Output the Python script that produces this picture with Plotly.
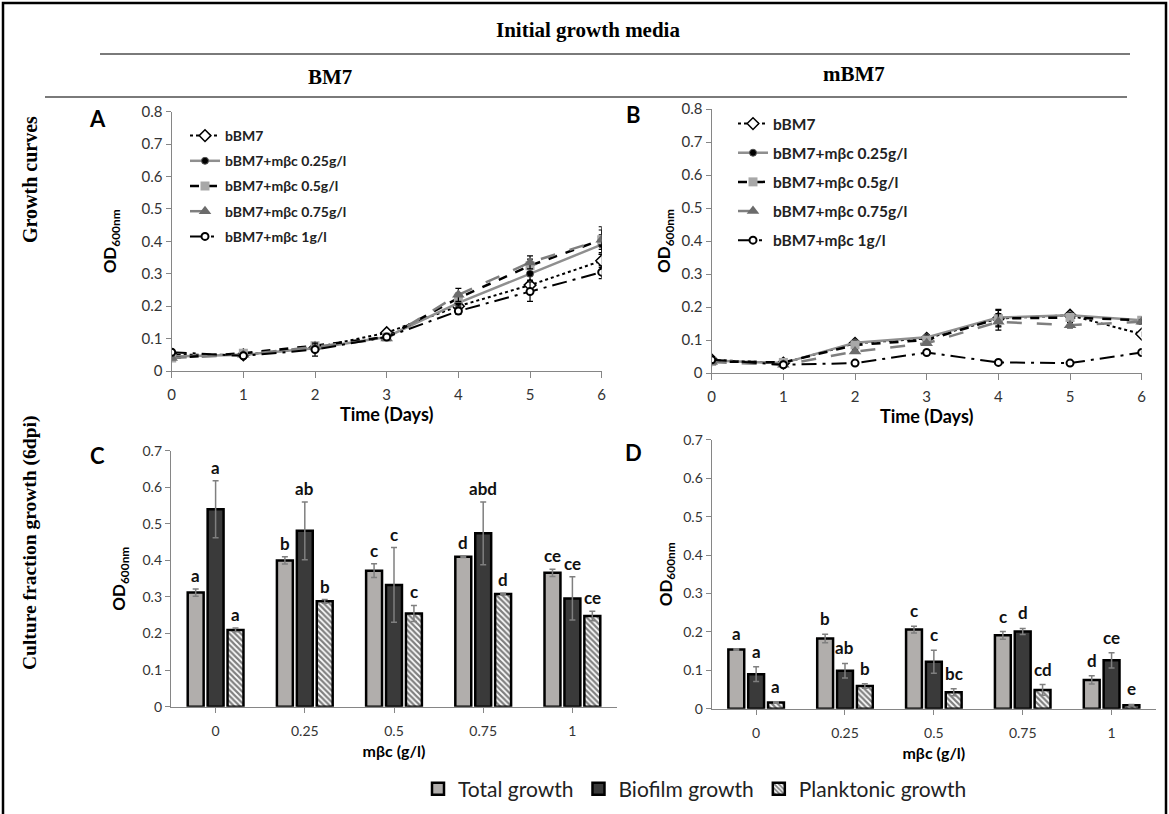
import plotly.graph_objects as go

# ---------------- data ----------------
days = [0, 1, 2, 3, 4, 5, 6]
series_names = ["bBM7", "bBM7+mβc 0.25g/l", "bBM7+mβc 0.5g/l",
                "bBM7+mβc 0.75g/l", "bBM7+mβc 1g/l"]

A_bBM7 = [0.050, 0.050, 0.072, 0.118, 0.200, 0.265, 0.340]
A_025 = [0.045, 0.050, 0.070, 0.105, 0.210, 0.300, 0.390]
A_05 = [0.040, 0.055, 0.078, 0.105, 0.225, 0.325, 0.405]
A_075 = [0.040, 0.050, 0.075, 0.100, 0.235, 0.335, 0.405]
A_1 = [0.058, 0.047, 0.066, 0.105, 0.185, 0.245, 0.305]
A_bBM7_err = [0.003, 0.004, 0.006, 0.006, 0.010, 0.015, 0.020]
A_025_err = [0.003, 0.004, 0.006, 0.005, 0.012, 0.020, 0.030]
A_05_err = [0.003, 0.004, 0.006, 0.005, 0.015, 0.020, 0.040]
A_075_err = [0.003, 0.004, 0.006, 0.005, 0.020, 0.020, 0.030]
A_1_err = [0.003, 0.004, 0.020, 0.005, 0.010, 0.030, 0.020]

B_bBM7 = [0.040, 0.030, 0.090, 0.105, 0.165, 0.175, 0.118]
B_025 = [0.038, 0.030, 0.092, 0.108, 0.168, 0.175, 0.160]
B_05 = [0.035, 0.032, 0.085, 0.100, 0.165, 0.168, 0.160]
B_075 = [0.033, 0.025, 0.065, 0.090, 0.155, 0.145, 0.155]
B_1 = [0.040, 0.025, 0.030, 0.062, 0.032, 0.030, 0.062]
B_bBM7_err = [0.003, 0.003, 0.005, 0.005, 0.010, 0.008, 0.006]
B_025_err = [0.003, 0.003, 0.005, 0.005, 0.025, 0.008, 0.006]
B_05_err = [0.003, 0.003, 0.005, 0.005, 0.025, 0.008, 0.006]
B_075_err = [0.003, 0.003, 0.005, 0.005, 0.025, 0.008, 0.006]
B_1_err = [0.003, 0.003, 0.003, 0.004, 0.003, 0.003, 0.004]

conc = ["0", "0.25", "0.5", "0.75", "1"]
fraction_names = ["Total growth", "Biofilm growth", "Planktonic growth"]

C_total = [0.312, 0.400, 0.372, 0.410, 0.366]
C_total_err = [0.010, 0.010, 0.019, 0.002, 0.010]
C_biofilm = [0.540, 0.481, 0.333, 0.474, 0.296]
C_biofilm_err = [0.078, 0.079, 0.102, 0.086, 0.059]
C_plank = [0.210, 0.288, 0.255, 0.308, 0.248]
C_plank_err = [0.005, 0.005, 0.022, 0.002, 0.013]
C_letters_total = ["a", "b", "c", "d", "ce"]
C_letters_biofilm = ["a", "ab", "c", "abd", "ce"]
C_letters_plank = ["a", "b", "c", "d", "ce"]

D_total = [0.154, 0.183, 0.206, 0.191, 0.075]
D_total_err = [0.002, 0.011, 0.009, 0.010, 0.011]
D_biofilm = [0.090, 0.099, 0.122, 0.201, 0.126]
D_biofilm_err = [0.019, 0.019, 0.030, 0.008, 0.020]
D_plank = [0.016, 0.059, 0.043, 0.049, 0.009]
D_plank_err = [0.002, 0.006, 0.009, 0.014, 0.002]
D_letters_total = ["a", "b", "c", "c", "d"]
D_letters_biofilm = ["a", "ab", "c", "d", "ce"]
D_letters_plank = ["a", "b", "bc", "cd", "e"]

# ---------------- helpers ----------------
W, H = 1169, 814
def px(x):
    return x / W
def py(y):
    return 1 - y / H

FONT = "Lato"
SERIF = "Liberation Serif"
AXIS_GRAY = "#868686"
TICK_FONT = dict(family=FONT, size=15, color="#333333")

line_styles = [
    dict(line=dict(color="black", width=2, dash="dot"),
         marker=dict(symbol="diamond", size=9, color="white", line=dict(color="black", width=1.5))),
    dict(line=dict(color="#8f8f8f", width=2.5, dash="solid"),
         marker=dict(symbol="circle", size=7, color="black", line=dict(color="#555", width=1))),
    dict(line=dict(color="black", width=2.5, dash="dash"),
         marker=dict(symbol="square", size=9, color="#a8a8a8", line=dict(color="#a8a8a8", width=0))),
    dict(line=dict(color="#7f7f7f", width=2.5, dash="longdash"),
         marker=dict(symbol="triangle-up", size=11, color="#6b6b6b", line=dict(color="#6b6b6b", width=0))),
    dict(line=dict(color="black", width=2, dash="longdashdot"),
         marker=dict(symbol="circle", size=7, color="white", line=dict(color="black", width=2))),
]

fig = go.Figure()

A_vals = [A_bBM7, A_025, A_05, A_075, A_1]
A_errs = [A_bBM7_err, A_025_err, A_05_err, A_075_err, A_1_err]
B_vals = [B_bBM7, B_025, B_05, B_075, B_1]
B_errs = [B_bBM7_err, B_025_err, B_05_err, B_075_err, B_1_err]

for i, name in enumerate(series_names):
    fig.add_trace(go.Scatter(
        x=days, y=A_vals[i], name=name, mode="lines+markers",
        error_y=dict(type="data", array=A_errs[i], color="black", thickness=1.2, width=3),
        xaxis="x", yaxis="y", legend="legend", legendgroup="a%d" % i,
        **line_styles[i]))
for i, name in enumerate(series_names):
    fig.add_trace(go.Scatter(
        x=days, y=B_vals[i], name=name, mode="lines+markers",
        error_y=dict(type="data", array=B_errs[i], color="black", thickness=1.2, width=3),
        xaxis="x2", yaxis="y2", legend="legend2", legendgroup="b%d" % i,
        **line_styles[i]))

bar_styles = [
    dict(marker=dict(color="#b1aeac", line=dict(color="black", width=2.5))),
    dict(marker=dict(color="#3a3a3a", line=dict(color="black", width=2.5))),
    dict(marker=dict(color="white", line=dict(color="black", width=2.5),
                     pattern=dict(shape="\\", fgcolor="black", bgcolor="white",
                                  size=4, solidity=0.55))),
]
xpos = list(range(len(conc)))
C_vals = [C_total, C_biofilm, C_plank]
C_errs = [C_total_err, C_biofilm_err, C_plank_err]
D_vals = [D_total, D_biofilm, D_plank]
D_errs = [D_total_err, D_biofilm_err, D_plank_err]
C_letters = [C_letters_total, C_letters_biofilm, C_letters_plank]
D_letters = [D_letters_total, D_letters_biofilm, D_letters_plank]

for j, name in enumerate(fraction_names):
    fig.add_trace(go.Bar(
        x=xpos, y=C_vals[j], name=name, xaxis="x3", yaxis="y3",
        error_y=dict(type="data", array=C_errs[j], color="#7f7f7f", thickness=1.5, width=3),
        legend="legend3", showlegend=True, **bar_styles[j]))
for j, name in enumerate(fraction_names):
    fig.add_trace(go.Bar(
        x=xpos, y=D_vals[j], name=name, xaxis="x4", yaxis="y4",
        error_y=dict(type="data", array=D_errs[j], color="#7f7f7f", thickness=1.5, width=3),
        showlegend=False, **bar_styles[j]))

BARGAP = 0.33
slot = (1 - BARGAP) / 3
annotations = []
for j in range(3):
    off = (j - 1) * slot
    for k in range(len(conc)):
        annotations.append(dict(
            x=xpos[k] + off, y=C_vals[j][k] + C_errs[j][k], xref="x3", yref="y3",
            text="<b>%s</b>" % C_letters[j][k], showarrow=False, xanchor="center",
            yanchor="bottom", yshift=1, font=dict(family=FONT, size=17, color="#111")))
        annotations.append(dict(
            x=xpos[k] + off, y=D_vals[j][k] + D_errs[j][k], xref="x4", yref="y4",
            text="<b>%s</b>" % D_letters[j][k], showarrow=False, xanchor="center",
            yanchor="bottom", yshift=3, font=dict(family=FONT, size=17, color="#111")))

def paper_text(x, y, text, family, size, angle=0):
    return dict(x=px(x), y=py(y), xref="paper", yref="paper", text=text, showarrow=False,
                xanchor="center", yanchor="middle", textangle=angle,
                font=dict(family=family, size=size, color="black"))

# panel letters
for letter, (lx, ly) in zip("ABCD", [(97, 118), (633, 114), (97, 455), (633, 452)]):
    annotations.append(paper_text(lx, ly, "<b>%s</b>" % letter, FONT, 22))

# headers
annotations += [
    paper_text(588, 30, "<b>Initial growth media</b>", SERIF, 21),
    paper_text(330, 77, "<b>BM7</b>", SERIF, 21),
    paper_text(854, 74, "<b>mBM7</b>", SERIF, 21),
    paper_text(30, 180, "<b>Growth curves</b>", SERIF, 20, -90),
    paper_text(30, 543, "<b>Culture fraction growth (6dpi)</b>", SERIF, 19.5, -90),
]

shapes = [
    dict(type="rect", xref="paper", yref="paper", x0=px(3), x1=px(1166), y0=-0.05, y1=py(3),
         line=dict(color="black", width=2.5)),
    dict(type="line", xref="paper", yref="paper", x0=px(100), x1=px(1130), y0=py(54), y1=py(54),
         line=dict(color="#7a7a7a", width=2)),
    dict(type="line", xref="paper", yref="paper", x0=px(45), x1=px(1127), y0=py(97), y1=py(97),
         line=dict(color="#7a7a7a", width=2)),
]

def yax(domain, rng, standoff, tsize=15):
    return dict(domain=domain, range=rng, dtick=0.1, tick0=0, showline=True, linecolor=AXIS_GRAY,
                linewidth=1.3, ticks="outside", ticklen=5, tickcolor=AXIS_GRAY, showgrid=False,
                zeroline=False, automargin=False,
                tickfont=dict(family=FONT, size=tsize, color="#333333"),
                title=dict(text="<b>OD<sub>600nm</sub></b>", standoff=standoff,
                           font=dict(family=FONT, size=17, color="black")))

def xax_line(domain, anchor):
    return dict(domain=domain, range=[0, 6], tickvals=days, showline=True, linecolor=AXIS_GRAY,
                linewidth=1.3, ticks="outside", ticklen=6, tickcolor=AXIS_GRAY, showgrid=False,
                zeroline=False, tickfont=TICK_FONT, anchor=anchor, ticklabelstandoff=4,
                automargin=False,
                title=dict(text="<b>Time (Days)</b>", standoff=1,
                           font=dict(family=FONT, size=18, color="black")))

def xax_bar(domain, anchor):
    return dict(domain=domain, range=[-0.5, len(conc) - 0.5], tickvals=xpos, ticktext=conc,
                showline=True, linecolor=AXIS_GRAY, linewidth=1.3, ticks="outside", ticklen=5,
                tickcolor=AXIS_GRAY, showgrid=False, zeroline=False, anchor=anchor,
                automargin=False,
                tickfont=dict(family=FONT, size=14, color="#333333"), ticklabelstandoff=6,
                title=dict(text="<b>mβc (g/l)</b>", standoff=8,
                           font=dict(family=FONT, size=16, color="black")))

fig.update_layout(
    width=W, height=H, margin=dict(l=0, r=0, t=0, b=0, autoexpand=False),
    paper_bgcolor="white", plot_bgcolor="white",
    barmode="group", bargap=BARGAP, bargroupgap=0.2,
    xaxis=xax_line([px(171.7), px(601.7)], "y"),
    yaxis={**yax([py(371), py(111.7)], [0, 0.8], 20), "anchor": "x"},
    xaxis2=xax_line([px(711.7), px(1141.7)], "y2"),
    yaxis2={**yax([py(373), py(109)], [0, 0.8], 6), "anchor": "x2"},
    xaxis3=xax_bar([px(171), px(617)], "y3"),
    yaxis3={**yax([py(706.7), py(450.7)], [0, 0.7], 12, 14), "anchor": "x3"},
    xaxis4=xax_bar([px(711.7), px(1156)], "y4"),
    yaxis4={**yax([py(708.7), py(439.9)], [0, 0.7], 6, 14), "anchor": "x4"},
    legend=dict(x=px(185), y=py(120), xanchor="left", yanchor="top", bgcolor="rgba(0,0,0,0)",
                font=dict(family=FONT, size=14, color="#222", weight="bold"),
                tracegroupgap=4, itemwidth=30),
    legend2=dict(x=px(733), y=py(107), xanchor="left", yanchor="top", bgcolor="rgba(0,0,0,0)",
                 font=dict(family=FONT, size=15.5, color="#222", weight="bold"),
                 tracegroupgap=6, itemwidth=30),
    legend3=dict(x=px(695), y=py(789), xanchor="center", yanchor="middle", orientation="h",
                 bgcolor="rgba(0,0,0,0)", font=dict(family=FONT, size=21, color="#222"),
                 itemwidth=30),
    annotations=annotations,
    shapes=shapes,
)

fig.write_html("out.html")
